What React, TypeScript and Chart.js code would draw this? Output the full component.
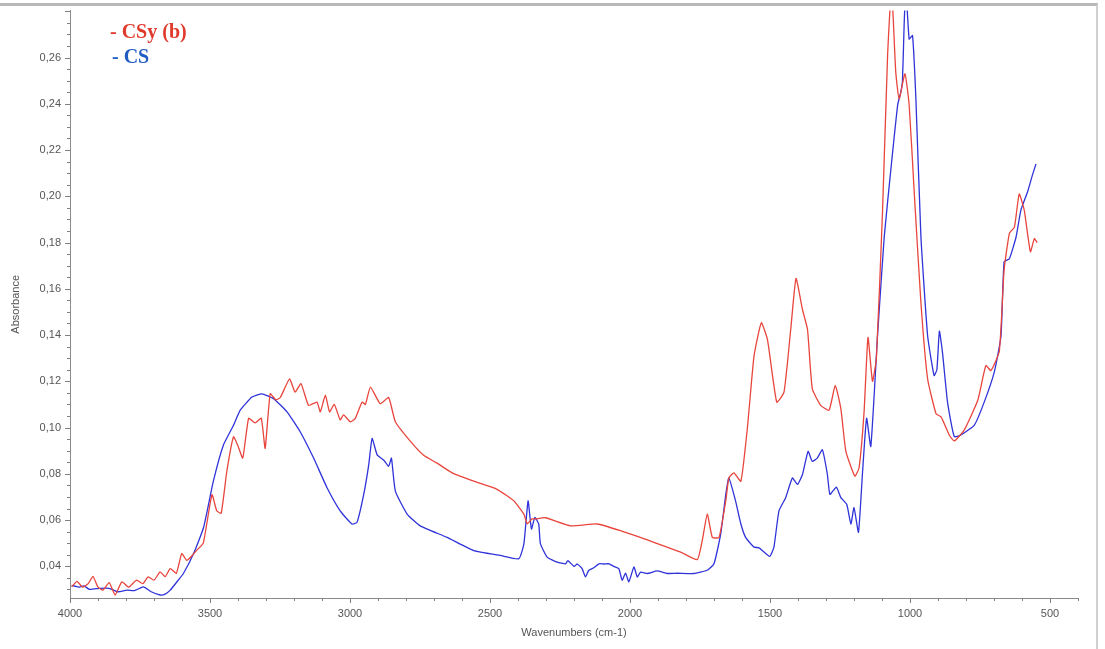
import React, { useEffect, useRef } from "react";
import { Chart, registerables } from "chart.js";

Chart.register(...registerables);

// CSy (b) spectrum — red
const csyWavenumbers = [
  3994, 3975, 3955, 3935, 3918, 3900, 3882, 3860, 3839, 3815, 3790, 3762, 3740, 3721, 3700, 3678, 3660, 3642, 3620, 3601,
  3583, 3565, 3547, 3524, 3493, 3476, 3460, 3440, 3416, 3400, 3383, 3362, 3339, 3317, 3303, 3285, 3265, 3249, 3216, 3196,
  3175, 3148, 3118, 3106, 3088, 3073, 3056, 3035, 3023, 2999, 2981, 2957, 2945, 2927, 2892, 2862, 2838, 2784, 2737, 2689,
  2635, 2558, 2475, 2415, 2379, 2367, 2350, 2337, 2302, 2212, 2117, 2034, 1915, 1819, 1760, 1742, 1724, 1706, 1682, 1658,
  1647, 1629, 1604, 1581, 1557, 1531, 1509, 1476, 1450, 1426, 1407, 1384, 1366, 1349, 1319, 1289, 1267, 1247, 1229, 1197,
  1182, 1164, 1150, 1134, 1120, 1098, 1080, 1066, 1051, 1039, 1018, 1003, 985, 961, 937, 907, 889, 860, 842, 806,
  758, 729, 711, 681, 664, 645, 627, 610, 592, 570, 556, 546,
];
const csyAbsorbance = [
  0.0311, 0.0335, 0.031, 0.0325, 0.0357, 0.031, 0.0297, 0.033, 0.0276, 0.0333, 0.031, 0.034, 0.0325, 0.0354, 0.034, 0.0376, 0.0355, 0.039, 0.037, 0.0455,
  0.0426, 0.0445, 0.047, 0.05, 0.071, 0.064, 0.063, 0.081, 0.096, 0.092, 0.0868, 0.104, 0.102, 0.104, 0.091, 0.1146, 0.112, 0.113, 0.121, 0.1153,
  0.119, 0.1096, 0.111, 0.1068, 0.114, 0.1068, 0.11, 0.1033, 0.1055, 0.1025, 0.104, 0.111, 0.11, 0.1175, 0.1103, 0.113, 0.1025, 0.094, 0.088, 0.0846,
  0.0804, 0.0768, 0.0733, 0.0683, 0.0626, 0.0584, 0.0605, 0.0605, 0.061, 0.0575, 0.0583, 0.0554, 0.0504, 0.0461, 0.0429, 0.0511, 0.0626, 0.0525, 0.0525, 0.0683,
  0.0782, 0.0804, 0.0768, 0.0996, 0.131, 0.1453, 0.138, 0.111, 0.1153, 0.1424, 0.1645, 0.151, 0.1424, 0.1168, 0.1096, 0.1075, 0.1182, 0.1082, 0.0897, 0.079,
  0.0825, 0.1068, 0.139, 0.12, 0.13, 0.194, 0.261, 0.29, 0.254, 0.242, 0.253, 0.2395, 0.202, 0.154, 0.121, 0.106, 0.1046, 0.0968, 0.0942, 0.099,
  0.1118, 0.1268, 0.1246, 0.133, 0.168, 0.184, 0.1867, 0.201, 0.194, 0.176, 0.1817, 0.18,
];

// CS spectrum — blue
const csWavenumbers = [
  3994, 3970, 3950, 3930, 3893, 3860, 3830, 3797, 3770, 3738, 3710, 3678, 3660, 3642, 3620, 3595, 3559, 3523, 3488, 3452,
  3416, 3392, 3350, 3315, 3273, 3225, 3178, 3130, 3082, 3035, 2993, 2975, 2951, 2933, 2921, 2903, 2880, 2862, 2852, 2838,
  2796, 2749, 2653, 2558, 2463, 2397, 2379, 2364, 2352, 2340, 2326, 2320, 2296, 2260, 2230, 2222, 2200, 2188, 2171, 2159,
  2147, 2129, 2111, 2093, 2075, 2058, 2040, 2028, 2016, 2004, 1986, 1974, 1962, 1938, 1903, 1867, 1831, 1772, 1724, 1700,
  1676, 1658, 1647, 1623, 1604, 1587, 1557, 1539, 1501, 1486, 1468, 1444, 1420, 1402, 1384, 1364, 1349, 1331, 1313, 1295,
  1286, 1263, 1247, 1226, 1211, 1200, 1184, 1170, 1155, 1140, 1116, 1092, 1068, 1044, 1033, 1027, 1021, 1015, 1003, 991,
  979, 961, 937, 914, 904, 895, 884, 866, 842, 818, 770, 735, 699, 675, 664, 645, 621, 604, 580, 562, 550,
];
const csAbsorbance = [
  0.0318, 0.031, 0.0315, 0.03, 0.0305, 0.0305, 0.029, 0.0297, 0.0295, 0.0311, 0.029, 0.0276, 0.028, 0.0297, 0.033, 0.0369, 0.0454, 0.0568, 0.0768, 0.0925,
  0.101, 0.1075, 0.1132, 0.1146, 0.1125, 0.1068, 0.0982, 0.0868, 0.074, 0.064, 0.0583, 0.059, 0.0711, 0.084, 0.0953, 0.0882, 0.086, 0.0832, 0.0868, 0.0725,
  0.0626, 0.0575, 0.0525, 0.0468, 0.0447, 0.0433, 0.0497, 0.0683, 0.0561, 0.0611, 0.0583, 0.0498, 0.044, 0.0418, 0.0411, 0.0425, 0.04, 0.041, 0.039, 0.0354,
  0.0383, 0.0394, 0.0411, 0.041, 0.0411, 0.04, 0.039, 0.034, 0.037, 0.0333, 0.0397, 0.0354, 0.0375, 0.0369, 0.038, 0.0369, 0.037, 0.0369, 0.0383, 0.0411,
  0.054, 0.071, 0.0782, 0.0683, 0.0583, 0.0525, 0.0483, 0.048, 0.0443, 0.0483, 0.064, 0.0697, 0.0782, 0.0754, 0.0797, 0.0897, 0.0854, 0.0868, 0.0904, 0.0797,
  0.0711, 0.0742, 0.0697, 0.0668, 0.0583, 0.0654, 0.0547, 0.0797, 0.104, 0.0918, 0.1396, 0.1825, 0.212, 0.2395, 0.245, 0.2495, 0.274, 0.29, 0.268, 0.2695,
  0.2423, 0.1825, 0.1396, 0.1225, 0.125, 0.1417, 0.1325, 0.111, 0.0961, 0.0968, 0.1011, 0.111, 0.124, 0.1396, 0.1717, 0.173, 0.1825, 0.194, 0.202, 0.2095, 0.214,
];

const seriesLabels = ["- CSy (b)", "- CS"];
const xAxisTitle = "Wavenumbers (cm-1)";
const yAxisTitle = "Absorbance";

const isMultiple = (v: number, step: number) => Math.abs(v / step - Math.round(v / step)) < 1e-6;

const tickMarksPlugin = {
  id: "tickMarks",
  afterDraw(chart: any) {
    const ctx = chart.ctx;
    ctx.save();
    ctx.strokeStyle = "#808080";
    ctx.lineWidth = 1;
    const xs = chart.scales.x;
    xs.ticks.forEach((t: any) => {
      if (!isMultiple(t.value, 100)) return;
      const px = Math.round(xs.getPixelForValue(t.value)) + 0.5;
      const len = isMultiple(t.value, 500) ? 5 : 3;
      ctx.beginPath();
      ctx.moveTo(px, xs.top);
      ctx.lineTo(px, xs.top + len);
      ctx.stroke();
    });
    const ys = chart.scales.y;
    ys.ticks.forEach((t: any) => {
      if (!isMultiple(t.value, 0.005)) return;
      const py = Math.round(ys.getPixelForValue(t.value)) + 0.5;
      const len = isMultiple(t.value, 0.02) ? 5 : 3;
      ctx.beginPath();
      ctx.moveTo(ys.right, py);
      ctx.lineTo(ys.right - len, py);
      ctx.stroke();
    });
    ctx.restore();
  },
};

export default function App() {
  const canvasRef = useRef<HTMLCanvasElement | null>(null);

  useEffect(() => {
    document.body.style.margin = "0";
    const canvas = canvasRef.current;
    if (!canvas) return;
    const chart = new Chart(canvas, {
      type: "line",
      data: {
        datasets: [
          {
            label: seriesLabels[0],
            data: csyWavenumbers.map((x, i) => ({ x, y: csyAbsorbance[i] })),
            borderColor: "#e8453c",
            borderWidth: 1.3,
            pointRadius: 0,
            tension: 0.15,
            fill: false,
          },
          {
            label: seriesLabels[1],
            data: csWavenumbers.map((x, i) => ({ x, y: csAbsorbance[i] })),
            borderColor: "#2f33d8",
            borderWidth: 1.3,
            pointRadius: 0,
            tension: 0.15,
            fill: false,
          },
        ],
      },
      options: {
        animation: false,
        responsive: false,
        maintainAspectRatio: false,
        layout: { padding: { left: 0, top: 5, right: 27, bottom: 0 } },
        plugins: { legend: { display: false }, tooltip: { enabled: false } },
        scales: {
          x: {
            type: "linear",
            reverse: true,
            min: 400,
            max: 4000,
            afterFit: (s: any) => {
              s.height = 51;
            },
            ticks: {
              stepSize: 100,
              autoSkip: false,
              maxRotation: 0,
              padding: 4,
              color: "#555",
              font: { family: "'Liberation Sans', Arial, sans-serif", size: 11 },
              callback: (v: any) => (isMultiple(Number(v), 500) ? String(v) : ""),
            },
            grid: { display: true, drawOnChartArea: false, drawTicks: true, tickLength: 5, color: "rgba(0,0,0,0)" },
            border: { display: true, color: "#8a8a8a", width: 1 },
            title: {
              display: true,
              text: xAxisTitle,
              color: "#555",
              font: { family: "'Liberation Sans', Arial, sans-serif", size: 11 },
              padding: { top: 2, bottom: 9 },
            },
          },
          y: {
            type: "linear",
            min: 0.0263,
            max: 0.2803,
            afterFit: (s: any) => {
              s.width = 70;
            },
            ticks: {
              stepSize: 0.005,
              autoSkip: false,
              includeBounds: false,
              padding: 4,
              color: "#555",
              font: { family: "'Liberation Sans', Arial, sans-serif", size: 11 },
              callback: (v: any) => {
                const n = Number(v);
                return isMultiple(n, 0.02) && n < 0.27 ? n.toFixed(2).replace(".", ",") : "";
              },
            },
            grid: { display: true, drawOnChartArea: false, drawTicks: true, tickLength: 5, color: "rgba(0,0,0,0)" },
            border: { display: true, color: "#8a8a8a", width: 1 },
            title: {
              display: true,
              text: yAxisTitle,
              color: "#555",
              font: { family: "'Liberation Sans', Arial, sans-serif", size: 11 },
              padding: { top: 9, bottom: 4 },
            },
          },
        },
      },
      plugins: [tickMarksPlugin],
    });
    return () => chart.destroy();
  }, []);

  return (
    <div style={{ position: "relative", width: 1105, height: 649, background: "#fff", overflow: "hidden" }}>
      <canvas ref={canvasRef} width={1105} height={649} style={{ position: "absolute", left: 0, top: 0 }} />
      <div
        style={{
          position: "absolute",
          left: 0,
          top: 3,
          width: 1096,
          height: 643,
          borderTop: "3px solid #b8b8b8",
          borderRight: "2px solid #d0d0d0",
          borderBottom: "2px solid #c8c8c8",
          pointerEvents: "none",
        }}
      />
      <div
        style={{
          position: "absolute",
          left: 110,
          top: 20,
          font: "bold 20px 'Liberation Serif', 'Times New Roman', serif",
          color: "#e03a2c",
          lineHeight: "22px",
          whiteSpace: "nowrap",
        }}
      >
        {seriesLabels[0]}
      </div>
      <div
        style={{
          position: "absolute",
          left: 112,
          top: 45,
          font: "bold 20px 'Liberation Serif', 'Times New Roman', serif",
          color: "#1f5cc4",
          lineHeight: "22px",
          whiteSpace: "nowrap",
        }}
      >
        {seriesLabels[1]}
      </div>
    </div>
  );
}
